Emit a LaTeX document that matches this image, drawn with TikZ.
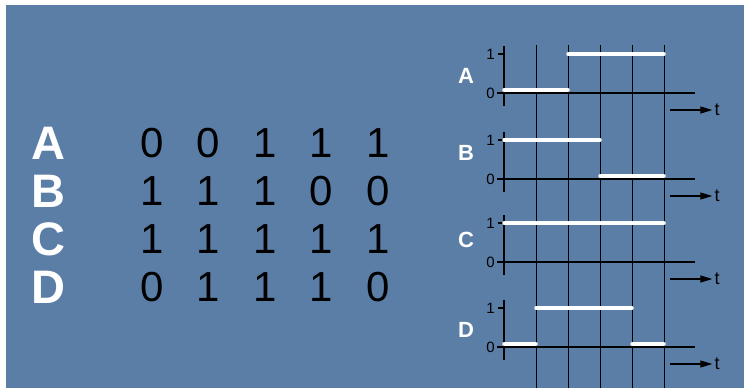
\documentclass[tikz,border=0pt]{standalone}
\usepackage{fontspec}
\setmainfont{Liberation Sans}
\usetikzlibrary{arrows.meta}
\definecolor{slate}{RGB}{90,126,166}
\begin{document}
\begin{tikzpicture}[x=1pt,y=-1pt,
    big letter/.style={text=white,font=\fontsize{47}{47}\selectfont\bfseries,inner sep=0pt,anchor=west},
    digit/.style={font=\fontsize{42}{42}\selectfont,inner sep=0pt},
    small letter/.style={text=white,font=\fontsize{22}{22}\selectfont\bfseries,inner sep=0pt},
    level/.style={font=\fontsize{15}{15}\selectfont,inner sep=0pt,anchor=east},
    tee/.style={font=\fontsize{18}{18}\selectfont,inner sep=2pt},
    axis/.style={line width=1.6pt},
    grid line/.style={line width=0.8pt},
    signal/.style={white,line width=3.5pt,line cap=round},
    time arrow/.style={-{Triangle[length=12pt,width=7pt]},line width=1.2pt}]

  \fill[white] (0,0) rectangle (744,388);
  \fill[slate] (6,5) rectangle (744,388);
  \useasboundingbox (0,0) rectangle (744,388);

  % truth table
  \foreach \n/\y/\bits in {A/143/{0,0,1,1,1}, B/191/{1,1,1,0,0}, C/239/{1,1,1,1,1}, D/287/{0,1,1,1,0}} {
    \node[big letter] (row\n) at (31,\y) {\n};
    \foreach \b [count=\c] in \bits
      \node[digit] (bit\n\c) at ({95.5+56.5*\c},\y) {\b};
  }

  % time grid
  \foreach \x in {536,568,600,632,664}
    \draw[grid line] (\x,45) -- (\x,388);

  % waveforms
  \foreach \n/\z/\ly/\bits in {A/93/76/{0,0,1,1,1}, B/179/153/{1,1,1,0,0}, C/262/240/{1,1,1,1,1}, D/347/330/{0,1,1,1,0}} {
    \draw[axis] (504,\z-47) -- (504,\z+13);
    \draw[axis] (497,\z) -- (695,\z);
    \draw[axis] (498,\z-39) -- (504,\z-39);
    \node[level] (one\n) at (495,\z-39) {1};
    \node[level] (zero\n) at (495,\z) {0};
    \node[small letter] (lab\n) at (466,\ly) {\n};
    \foreach \b [count=\c] in \bits
      \draw[signal] ({472+32*\c},{\z-3-36*\b}) -- ({504+32*\c},{\z-3-36*\b});
    \coordinate (from\n) at (670,\z+17);
    \node[tee] (t\n) at (717,\z+17) {t};
    \draw[time arrow] (from\n) -- (t\n.west);
  }
\end{tikzpicture}
\end{document}
